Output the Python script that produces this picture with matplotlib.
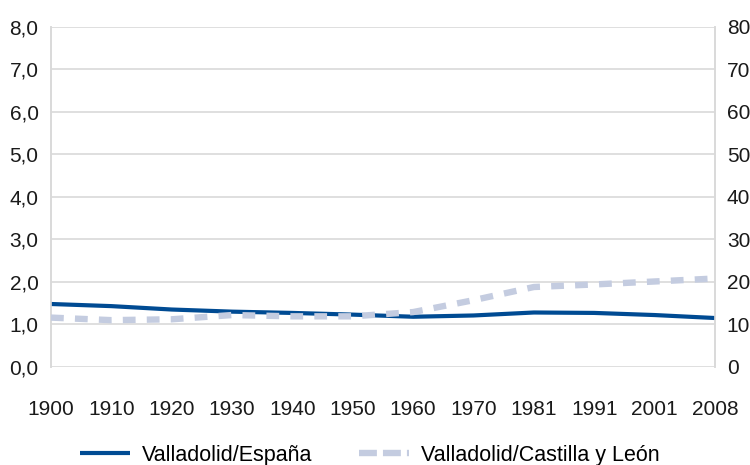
import matplotlib
matplotlib.use("Agg")
import matplotlib.pyplot as plt
from matplotlib.lines import Line2D
from matplotlib.ticker import FuncFormatter

plt.rcParams['font.family'] = ['Liberation Sans', 'DejaVu Sans']

years = ["1900", "1910", "1920", "1930", "1940", "1950", "1960", "1970", "1981", "1991", "2001", "2008"]
espana = [1.48, 1.43, 1.35, 1.30, 1.27, 1.23, 1.18, 1.21, 1.28, 1.27, 1.22, 1.15]
castilla = [11.6, 11.0, 11.2, 12.2, 11.9, 11.9, 12.9, 15.7, 18.8, 19.4, 20.1, 20.8]
left_ticks = [0, 1, 2, 3, 4, 5, 6, 7, 8]
right_ticks = [0, 10, 20, 30, 40, 50, 60, 70, 80]

fig = plt.figure(figsize=(7.5, 4.65), dpi=100)
ax = fig.add_axes([0.068, 0.211, 0.8853, 0.731])
ax2 = ax.twinx()

x = list(range(len(years)))
grid_c = '#d9d9d9'
FS = 15
blue = '#004b93'
light = '#c4cce0'

ax.set_ylim(0, 8)
ax.set_yticks(left_ticks)
ax.yaxis.set_major_formatter(FuncFormatter(lambda v, p: f"{v:.1f}".replace('.', ',')))
ax.grid(axis='y', color=grid_c, lw=1.2)
ax.set_axisbelow(True)
ax.set_xlim(0, len(years) - 1)
ax.set_xticks(x)
ax.set_xticklabels(years)
ax.tick_params(axis='both', length=0, labelsize=FS, colors='#1a1a1a')
ax.tick_params(axis='x', pad=24)
ax.tick_params(axis='y', pad=9)

ax2.set_ylim(0, 80)
ax2.set_yticks(right_ticks)
ax2.tick_params(axis='y', length=0, labelsize=FS, colors='#1a1a1a', pad=8.5)

for a in (ax, ax2):
    for s in ('top', 'bottom'):
        a.spines[s].set_visible(False)
    for s in ('left', 'right'):
        a.spines[s].set_color(grid_c)
        a.spines[s].set_linewidth(1.2)

ax.plot(x, espana, color=blue, lw=3.0, solid_capstyle='butt', zorder=3)
ax2.plot(x, castilla, color=light, lw=4.6, dashes=(2.0, 1.75), zorder=3)

h1 = Line2D([], [], color=blue, lw=3.0, solid_capstyle='butt')
h2 = Line2D([], [], color=light, lw=4.6, dashes=(2.8, 0.95))
fig.legend(handles=[h1, h2], labels=['Valladolid/España', 'Valladolid/Castilla y León'],
           loc='center', bbox_to_anchor=(0.493, 0.021), ncol=2,
           frameon=False, fontsize=15.5, handlelength=2.3, columnspacing=2.2, handletextpad=0.56,
           borderaxespad=0, borderpad=0)

fig.savefig('out.png', dpi=100)
